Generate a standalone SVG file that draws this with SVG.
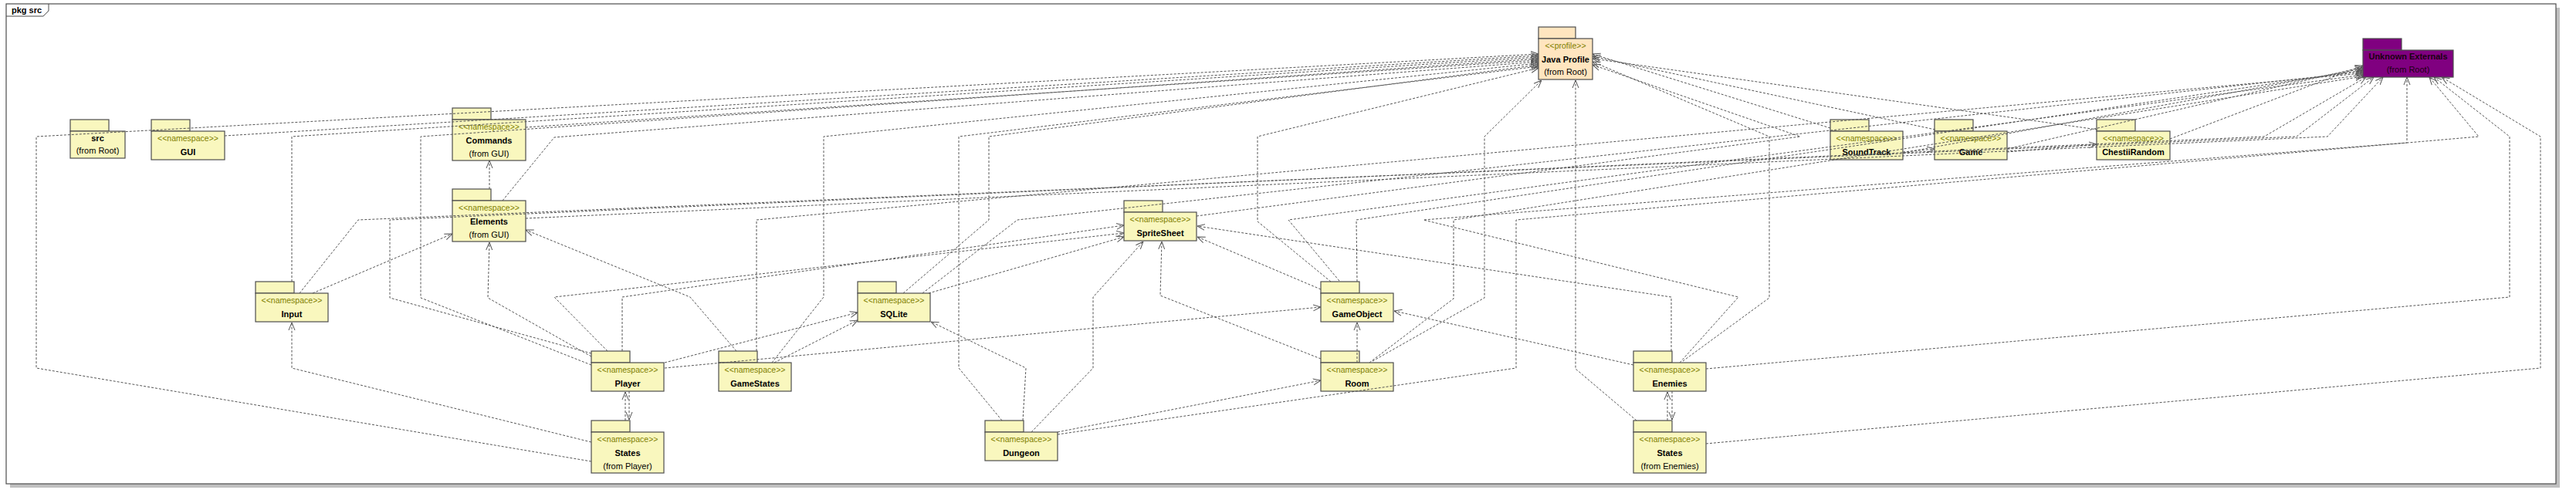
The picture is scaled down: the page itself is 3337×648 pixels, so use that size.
<svg xmlns="http://www.w3.org/2000/svg" width="3337" height="648" viewBox="0 0 3337 648">
<style>
.tab{fill:#F9F7BE;stroke:#4d4d4d;stroke-width:1.2}
.body{fill:#F9F7BE;stroke:#4d4d4d;stroke-width:1.2}
.prof{fill:#FFE5BF;stroke:#4d4d4d;stroke-width:1.2}
.unk{fill:#800080;stroke:#4d4d4d;stroke-width:1.2}
.st{font-family:"Liberation Sans",Arial,sans-serif;font-size:10.5px;fill:#808000;text-anchor:middle}
.nm{font-family:"Liberation Sans",Arial,sans-serif;font-size:11px;font-weight:bold;fill:#000;text-anchor:middle}
.fr{font-family:"Liberation Sans",Arial,sans-serif;font-size:11px;fill:#000;text-anchor:middle}
.c{fill:none;stroke:#555;stroke-width:1;stroke-dasharray:3,2;marker-end:url(#arr)}
</style>
<defs>
<marker id="arr" viewBox="0 0 10 10" refX="10" refY="5" markerWidth="10" markerHeight="10" markerUnits="userSpaceOnUse" orient="auto"><path d="M0,1 L10,5 L0,9" fill="none" stroke="#555" stroke-width="1"/></marker>
</defs>
<rect width="3337" height="648" fill="#fff"/>
<g id="frame">
<rect x="13" y="10" width="3303" height="622" fill="#c0c0c0"/>
<rect x="8" y="5" width="3303" height="622" fill="#fff" stroke="#4d4d4d" stroke-width="1.2"/>
<path d="M8,21 L56,21 L63,14 L63,5" fill="none" stroke="#4d4d4d" stroke-width="1"/>
<text x="15" y="17" font-family="Liberation Sans,Arial,sans-serif" font-size="11" font-weight="bold">pkg src</text>
</g>
<g id="node-src"><rect class="tab" x="91" y="155" width="50" height="15"/><rect class="body" x="91" y="170" width="71" height="35"/><text class="nm" x="126.5" y="182.5">src</text><text class="fr" x="126.5" y="199">(from Root)</text></g>
<g id="node-gui"><rect class="tab" x="196" y="155" width="50" height="15"/><rect class="body" x="196" y="170" width="95" height="37"/><text class="st" x="243.5" y="183">&lt;&lt;namespace&gt;&gt;</text><text class="nm" x="243.5" y="201">GUI</text></g>
<g id="node-commands"><rect class="tab" x="586" y="140" width="50" height="15"/><rect class="body" x="586" y="155" width="95" height="53"/><text class="st" x="633.5" y="168">&lt;&lt;namespace&gt;&gt;</text><text class="nm" x="633.5" y="186">Commands</text><text class="fr" x="633.5" y="203">(from GUI)</text></g>
<g id="node-elements"><rect class="tab" x="586" y="245" width="50" height="15"/><rect class="body" x="586" y="260" width="95" height="53"/><text class="st" x="633.5" y="273">&lt;&lt;namespace&gt;&gt;</text><text class="nm" x="633.5" y="291">Elements</text><text class="fr" x="633.5" y="308">(from GUI)</text></g>
<g id="node-input"><rect class="tab" x="331" y="365" width="50" height="15"/><rect class="body" x="331" y="380" width="94" height="37"/><text class="st" x="378" y="393">&lt;&lt;namespace&gt;&gt;</text><text class="nm" x="378" y="411">Input</text></g>
<g id="node-player"><rect class="tab" x="766" y="455" width="50" height="15"/><rect class="body" x="766" y="470" width="94" height="37"/><text class="st" x="813" y="483">&lt;&lt;namespace&gt;&gt;</text><text class="nm" x="813" y="501">Player</text></g>
<g id="node-gamestates"><rect class="tab" x="931" y="455" width="50" height="15"/><rect class="body" x="931" y="470" width="94" height="37"/><text class="st" x="978" y="483">&lt;&lt;namespace&gt;&gt;</text><text class="nm" x="978" y="501">GameStates</text></g>
<g id="node-states-player"><rect class="tab" x="766" y="545" width="50" height="15"/><rect class="body" x="766" y="560" width="94" height="53"/><text class="st" x="813" y="573">&lt;&lt;namespace&gt;&gt;</text><text class="nm" x="813" y="591">States</text><text class="fr" x="813" y="608">(from Player)</text></g>
<g id="node-sqlite"><rect class="tab" x="1111" y="365" width="50" height="15"/><rect class="body" x="1111" y="380" width="94" height="37"/><text class="st" x="1158" y="393">&lt;&lt;namespace&gt;&gt;</text><text class="nm" x="1158" y="411">SQLite</text></g>
<g id="node-spritesheet"><rect class="tab" x="1456" y="260" width="50" height="15"/><rect class="body" x="1456" y="275" width="94" height="37"/><text class="st" x="1503" y="288">&lt;&lt;namespace&gt;&gt;</text><text class="nm" x="1503" y="306">SpriteSheet</text></g>
<g id="node-dungeon"><rect class="tab" x="1276" y="545" width="50" height="15"/><rect class="body" x="1276" y="560" width="94" height="37"/><text class="st" x="1323" y="573">&lt;&lt;namespace&gt;&gt;</text><text class="nm" x="1323" y="591">Dungeon</text></g>
<g id="node-gameobject"><rect class="tab" x="1711" y="365" width="50" height="15"/><rect class="body" x="1711" y="380" width="94" height="37"/><text class="st" x="1758" y="393">&lt;&lt;namespace&gt;&gt;</text><text class="nm" x="1758" y="411">GameObject</text></g>
<g id="node-room"><rect class="tab" x="1711" y="455" width="50" height="15"/><rect class="body" x="1711" y="470" width="94" height="37"/><text class="st" x="1758" y="483">&lt;&lt;namespace&gt;&gt;</text><text class="nm" x="1758" y="501">Room</text></g>
<g id="node-enemies"><rect class="tab" x="2116" y="455" width="50" height="15"/><rect class="body" x="2116" y="470" width="94" height="37"/><text class="st" x="2163" y="483">&lt;&lt;namespace&gt;&gt;</text><text class="nm" x="2163" y="501">Enemies</text></g>
<g id="node-states-enemies"><rect class="tab" x="2116" y="545" width="50" height="15"/><rect class="body" x="2116" y="560" width="94" height="53"/><text class="st" x="2163" y="573">&lt;&lt;namespace&gt;&gt;</text><text class="nm" x="2163" y="591">States</text><text class="fr" x="2163" y="608">(from Enemies)</text></g>
<g id="node-javaprofile"><rect class="prof" x="1993" y="35" width="48" height="15"/><rect class="prof" x="1993" y="50" width="70" height="53"/><text class="st" x="2028" y="63">&lt;&lt;profile&gt;&gt;</text><text class="nm" x="2028" y="81">Java Profile</text><text class="fr" x="2028" y="97">(from Root)</text></g>
<g id="node-soundtrack"><rect class="tab" x="2371" y="155" width="50" height="15"/><rect class="body" x="2371" y="170" width="94" height="37"/><text class="st" x="2418" y="183">&lt;&lt;namespace&gt;&gt;</text><text class="nm" x="2418" y="201">SoundTrack</text></g>
<g id="node-game"><rect class="tab" x="2506" y="155" width="50" height="15"/><rect class="body" x="2506" y="170" width="94" height="37"/><text class="st" x="2553" y="183">&lt;&lt;namespace&gt;&gt;</text><text class="nm" x="2553" y="201">Game</text></g>
<g id="node-chestiirandom"><rect class="tab" x="2716" y="155" width="50" height="15"/><rect class="body" x="2716" y="170" width="95" height="37"/><text class="st" x="2763.5" y="183">&lt;&lt;namespace&gt;&gt;</text><text class="nm" x="2763.5" y="201">ChestiiRandom</text></g>
<g id="node-unknown"><rect class="unk" x="3061" y="50" width="50" height="15"/><rect class="unk" x="3061" y="65" width="117" height="35"/><text class="nm" x="3119.5" y="77" style="fill:#1a0010">Unknown Externals</text><text class="fr" x="3119.5" y="94" style="fill:#1a0010">(from Root)</text></g>
<g id="connectors">
<path class="c" d="M766,598 L47,477 L47,177 L1993,70"/>
<path class="c" d="M291,176 L1993,72"/>
<path class="c" d="M378,365 L378,177 L1993,74"/>
<path class="c" d="M766,473 L545,386 L545,177 L1993,76"/>
<path class="c" d="M681,165 L1993,78"/>
<path class="c" d="M651,260 L718,178 L1993,80"/>
<path class="c" d="M1000,470 L1067,385 L1067,177 L1993,82"/>
<path class="c" d="M1170,380 L1281,285 L1281,177 L1993,84"/>
<path class="c" d="M1298,545 L1242,477 L1242,177 L1993,86"/>
<path class="c" d="M1724,365 L1629,287 L1629,177 L1993,88"/>
<path class="c" d="M1778,468 L1923,386 L1923,177 L1997,104"/>
<path class="c" d="M2120,545 L2041,478 L2041,104"/>
<path class="c" d="M2371,166 L2063,70"/>
<path class="c" d="M2507,168 L2063,73"/>
<path class="c" d="M2717,168 L2063,76"/>
<path class="c" d="M2180,468 L2292,386 L2292,177 L2063,80"/>
<path class="c" d="M1550,280 L2332,177 L2063,84"/>
<path class="c" d="M766,458 L505,386 L505,285 L2933,177 L3065,100"/>
<path class="c" d="M388,380 L464,285 L2975,177 L3075,100"/>
<path class="c" d="M681,283 L3015,177 L3087,100"/>
<path class="c" d="M980,455 L980,285 L3061,95"/>
<path class="c" d="M1195,380 L1318,285 L3061,93"/>
<path class="c" d="M1735,364 L1669,285 L3061,97"/>
<path class="c" d="M1758,365 L1757,285 L3061,91"/>
<path class="c" d="M1774,470 L1883,387 L1883,285 L3061,99"/>
<path class="c" d="M1370,563 L1964,477 L1964,285 L3211,177 L3147,100"/>
<path class="c" d="M2176,470 L2252,385 L1844,285 L3118,185 L3118,100"/>
<path class="c" d="M2465,198 L3061,89"/>
<path class="c" d="M2600,193 L3061,87"/>
<path class="c" d="M2811,180 L3061,85"/>
<path class="c" d="M2210,478 L3251,385 L3251,177 L3153,100"/>
<path class="c" d="M2210,575 L3291,477 L3291,177 L3163,100"/>
<path class="c" d="M634,245 L634,208"/>
<path class="c" d="M405,380 L586,303"/>
<path class="c" d="M766,462 L632,386 L634,314"/>
<path class="c" d="M954,455 L894,385 L681,298"/>
<path class="c" d="M766,573 L378,477 L378,418"/>
<path class="c" d="M810,545 L810,508"/>
<path class="c" d="M815,507 L815,544"/>
<path class="c" d="M861,470 L1111,405"/>
<path class="c" d="M1003,470 L1111,415"/>
<path class="c" d="M1325,545 L1329,477 L1206,417"/>
<path class="c" d="M787,455 L718,385 L1456,302"/>
<path class="c" d="M806,455 L806,385 L1456,292"/>
<path class="c" d="M1203,380 L1456,307"/>
<path class="c" d="M1336,560 L1416,477 L1416,385 L1481,313"/>
<path class="c" d="M1711,465 L1503,383 L1505,313"/>
<path class="c" d="M1711,375 L1551,307"/>
<path class="c" d="M2165,455 L2165,385 L1551,293"/>
<path class="c" d="M861,477 L1711,398"/>
<path class="c" d="M1370,560 L1711,493"/>
<path class="c" d="M1758,470 L1758,418"/>
<path class="c" d="M2116,473 L1806,403"/>
<path class="c" d="M2160,545 L2160,508"/>
<path class="c" d="M2166,507 L2166,544"/>
<path class="c" d="M2465,197 L2506,193"/>
<path class="c" d="M2600,197 L2716,187"/>
</g>
</svg>
